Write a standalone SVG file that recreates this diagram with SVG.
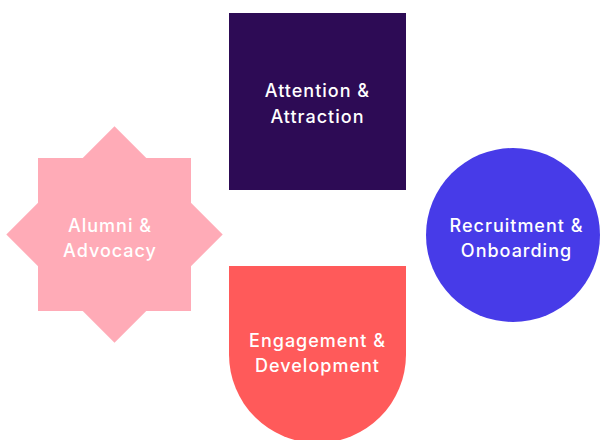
<svg xmlns="http://www.w3.org/2000/svg" width="600" height="440" viewBox="0 0 600 440">
  <style>
    .label { font-family: Inter, "Noto Sans", "DejaVu Sans", sans-serif; font-size: 18px; font-weight: 500; letter-spacing: 1px; fill: #ffffff; text-anchor: middle; }
  </style>
  <rect width="600" height="440" fill="#ffffff"/>

  <!-- Stage shapes -->
  <g id="attention">
    <rect x="229" y="13" width="177" height="177" fill="#2D0B55"/>
    <text class="label" x="317.5" y="97">Attention &amp;</text>
    <text class="label" x="317.5" y="123">Attraction</text>
  </g>

  <g id="recruitment">
    <circle cx="513" cy="235" r="87" fill="#473BE8"/>
    <text class="label" x="516.5" y="232">Recruitment &amp;</text>
    <text class="label" x="516.5" y="257">Onboarding</text>
  </g>

  <g id="engagement">
    <path d="M229 266 H406 V354.5 A88.5 88.5 0 0 1 229 354.5 Z" fill="#FF5A5A"/>
    <text class="label" x="317.5" y="347">Engagement &amp;</text>
    <text class="label" x="317.5" y="372">Development</text>
  </g>

  <g id="alumni">
    <g fill="#FFABB7">
      <rect x="38" y="158" width="153" height="153"/>
      <rect x="38" y="158" width="153" height="153" transform="rotate(45 114.5 234.5)"/>
    </g>
    <text class="label" x="110" y="232">Alumni &amp;</text>
    <text class="label" x="110" y="257">Advocacy</text>
  </g>

  <g id="connectors"/>
</svg>
